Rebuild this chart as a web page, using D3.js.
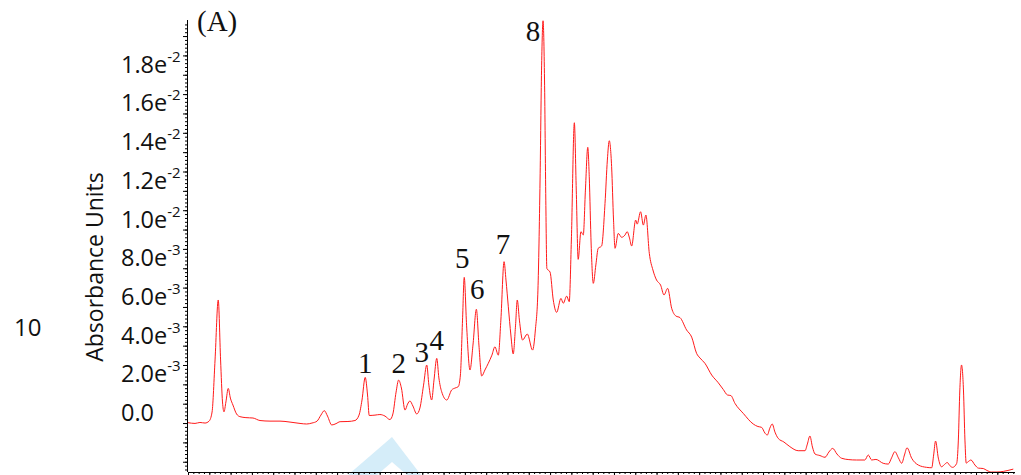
<!DOCTYPE html>
<html>
<head>
<meta charset="utf-8">
<script src="https://cdn.jsdelivr.net/npm/d3@7"></script>
<style>
  html, body { margin: 0; padding: 0; background: #fff; }
  svg { display: block; }
</style>
</head>
<body>
<svg id="chart" width="1021" height="475"></svg>
<script>
// Retention time (min) and absorbance (in units of 1e-3 AU)
const timeMin = [
  0.00, 0.33, 0.56, 0.80, 0.99, 1.13, 1.27, 1.42, 1.53, 1.62, 1.69, 1.78, 1.89, 1.99, 2.11, 2.28, 2.44, 2.72, 3.05, 3.38,
  3.85, 4.32, 4.79, 5.26, 5.57, 5.82, 6.06, 6.24, 6.40, 6.55, 6.75, 6.95, 7.14, 7.51, 7.84, 8.03, 8.17, 8.32, 8.43, 8.51,
  8.78, 9.01, 9.25, 9.48, 9.62, 9.77, 9.89, 10.02, 10.19, 10.31, 10.42, 10.56, 10.74, 10.89, 11.06, 11.21, 11.31, 11.44, 11.55, 11.68,
  11.78, 11.91, 12.15, 12.38, 12.54, 12.69, 12.79, 12.89, 12.97, 13.08, 13.24, 13.38, 13.54, 13.66, 13.79, 13.94, 14.10, 14.27, 14.41, 14.57,
  14.69, 14.84, 14.93, 15.04, 15.16, 15.27, 15.38, 15.46, 15.56, 15.71, 15.93, 16.18, 16.31, 16.43, 16.53, 16.60, 16.67, 16.74, 16.80, 16.85,
  17.00, 17.15, 17.31, 17.51, 17.62, 17.78, 17.90, 18.00, 18.14, 18.23, 18.32, 18.45, 18.56, 18.66, 18.77, 18.84, 18.93, 19.03, 19.15, 19.26,
  19.42, 19.58, 19.69, 19.78, 19.89, 19.98, 20.05, 20.20, 20.36, 20.52, 20.62, 20.73, 20.83, 21.02, 21.09, 21.25, 21.38, 21.50, 21.66, 21.83,
  22.00, 22.19, 22.35, 22.52, 22.71, 22.91, 23.10, 23.41, 23.65, 23.88, 24.04, 24.27, 24.59, 24.90, 25.13, 25.33, 25.49, 25.68, 26.07, 26.54,
  26.76, 26.93, 27.09, 27.20, 27.32, 27.43, 27.56, 27.71, 27.98, 28.26, 28.65, 28.97, 29.08, 29.20, 29.32, 29.44, 29.67, 29.91, 30.09, 30.27,
  30.47, 30.69, 31.03, 31.39, 31.78, 31.94, 32.10, 32.30, 32.64, 32.88, 33.03, 33.19, 33.36, 33.51, 33.64, 33.76, 33.98, 34.29, 34.68, 34.92,
  35.01, 35.10, 35.23, 35.38, 35.52, 35.65, 35.77, 35.90, 36.09, 36.17, 36.24, 36.32, 36.41, 36.48, 36.54, 36.64, 36.76, 36.95, 37.11, 37.34,
  37.51, 37.73, 37.98, 38.28, 38.50, 38.75
];
const absorbanceMilli = [
  0.02, -0.02, 0.03, 0.00, 0.10, 0.57, 3.26, 6.36, 3.26, 1.09, 0.58, 1.09, 1.79, 1.29, 0.93, 0.47, 0.33, 0.28, 0.26, 0.13,
  0.10, 0.10, 0.05, -0.02, -0.05, 0.00, 0.10, 0.41, 0.64, 0.36, -0.10, -0.03, 0.07, 0.08, 0.13, 0.41, 1.19, 2.36, 1.45, 0.39,
  0.41, 0.44, 0.36, 0.18, 0.47, 1.60, 2.22, 1.81, 0.67, 0.98, 1.14, 0.88, 0.47, 0.78, 1.96, 3.00, 1.96, 1.19, 2.22, 3.34,
  2.33, 1.62, 1.19, 1.71, 1.81, 1.88, 2.48, 5.32, 7.53, 5.06, 2.74, 4.03, 5.88, 4.03, 2.43, 2.74, 3.09, 3.51, 3.94, 3.51,
  5.32, 8.34, 7.39, 6.01, 4.55, 3.57, 5.06, 6.36, 5.32, 4.29, 4.60, 3.77, 4.81, 6.87, 12.56, 18.24, 20.79, 17.73, 11.52, 7.99,
  7.80, 6.36, 5.72, 6.44, 6.19, 6.56, 6.27, 9.46, 15.52, 12.04, 8.46, 9.89, 9.72, 12.04, 14.25, 12.73, 9.20, 7.22, 8.17, 9.03,
  9.15, 11.35, 13.59, 14.59, 13.25, 10.49, 9.03, 9.80, 9.60, 9.72, 9.89, 9.56, 9.15, 10.49, 10.28, 10.92, 10.23, 10.75, 8.77, 7.91,
  7.39, 7.13, 6.62, 6.96, 5.93, 5.53, 5.45, 4.81, 4.44, 3.60, 3.36, 3.09, 2.48, 2.08, 1.74, 1.45, 1.42, 1.02, 0.50, -0.05,
  -0.18, -0.22, -0.52, -0.62, -0.26, -0.05, -0.47, -0.79, -0.98, -1.22, -1.43, -1.43, -1.09, -0.67, -1.24, -1.60, -1.68, -1.77, -1.50, -1.31,
  -1.60, -1.82, -1.89, -1.91, -1.91, -1.65, -1.91, -1.88, -2.08, -2.12, -1.81, -1.48, -1.81, -2.08, -1.65, -1.28, -1.82, -2.17, -2.29, -2.31,
  -1.65, -0.93, -1.81, -2.26, -2.14, -2.04, -2.20, -2.29, -2.09, -0.88, 1.71, 3.00, 1.71, -0.88, -2.07, -1.99, -1.91, -2.17, -2.33, -2.35,
  -2.45, -2.53, -2.53, -2.50, -2.45, -2.38
];

// Numbered peaks: label, retention time, absorbance at apex (1e-3 AU)
const peakLabels = ["1", "2", "3", "4", "5", "6", "7", "8"];
const peakTimes  = [8.32, 9.89, 11.21, 11.68, 12.97, 13.54, 14.84, 16.67];
const peakValues = [2.36, 2.22, 3.00, 3.34, 7.53, 5.88, 8.34, 20.79];

// Y-axis tick values (1e-3 AU) and their labels
const yTickValues = [0, 2, 4, 6, 8, 10, 12, 14, 16, 18];
const yTickMantissa = ["0.0", "2.0e", "4.0e", "6.0e", "8.0e", "1.0e", "1.2e", "1.4e", "1.6e", "1.8e"];
const yTickExponent = ["", "-3", "-3", "-3", "-3", "-2", "-2", "-2", "-2", "-2"];

const panelTitle = "(A)";
const yAxisTitle = "Absorbance Units";
const sideNote = "10";

const svg = d3.select("#chart");
const plot = { left: 188, right: 1015, top: 20, bottom: 472 };

const x = d3.scaleLinear().domain([0, 38.83]).range([plot.left, plot.right]);
const y = d3.scaleLinear().domain([-2.53, 20.83]).range([plot.bottom, plot.top]);

const data = timeMin.map((t, i) => ({ t, a: absorbanceMilli[i] }));

// Light-blue chevron mark behind the axis
svg.append("path")
  .attr("d", "M392,437 L421,475 L407,475 L392,462 L377,475 L348,475 Z")
  .attr("fill", "#d5edf9");

// Chromatogram trace
const line = d3.line()
  .x(d => x(d.t))
  .y(d => y(d.a))
  .curve(d3.curveMonotoneX);

svg.append("path")
  .datum(data)
  .attr("d", line)
  .attr("fill", "none")
  .attr("stroke", "#ff1a1a")
  .attr("stroke-width", 1);

// Bottom axis: line plus major/minor ticks, no labels
const xAxisMinor = d3.axisBottom(x)
  .tickValues(d3.range(0, 38.8, 0.25))
  .tickSize(2).tickFormat("").tickSizeOuter(0);
const xAxisMajor = d3.axisBottom(x)
  .tickValues(d3.range(0, 39, 1))
  .tickSize(4).tickFormat("").tickSizeOuter(0);
[xAxisMinor, xAxisMajor].forEach(ax => {
  const g = svg.append("g").attr("transform", `translate(0,${plot.bottom})`).call(ax);
  g.select(".domain").attr("stroke", "#000").attr("d", `M${plot.left},0.5H${plot.right}`);
  g.selectAll(".tick line").attr("stroke", "#000");
});

// Left axis: line plus major/minor ticks
const yAxisMinor = d3.axisLeft(y)
  .tickValues(d3.range(-2.4, 20.8, 0.2))
  .tickSize(3).tickFormat("").tickSizeOuter(0);
const yAxisMajor = d3.axisLeft(y)
  .tickValues(d3.range(-2, 21, 1))
  .tickSize(5).tickFormat("").tickSizeOuter(0);
[yAxisMinor, yAxisMajor].forEach(ax => {
  const g = svg.append("g").attr("transform", `translate(${plot.left},0)`).call(ax);
  g.select(".domain").attr("stroke", "#000").attr("d", `M-0.5,${plot.top}V${plot.bottom}`);
  g.selectAll(".tick line").attr("stroke", "#000");
});

// Y tick labels with superscript exponents
const labelFont = "'Open Sans', 'DejaVu Sans', sans-serif";
const yLabels = svg.append("g")
  .attr("font-family", labelFont)
  .attr("fill", "#111");
yTickValues.forEach((v, i) => {
  const t = yLabels.append("text")
    .attr("x", 121)
    .attr("y", y(v) - 2)
    .attr("font-size", 23.5);
  t.append("tspan").text(yTickMantissa[i]);
  if (yTickExponent[i]) {
    t.append("tspan")
      .attr("font-size", 15)
      .attr("dy", -11)
      .text(yTickExponent[i]);
  }
});

// Y axis title
svg.append("text")
  .attr("transform", "translate(103,267) rotate(-90)")
  .attr("text-anchor", "middle")
  .attr("font-family", labelFont)
  .attr("font-size", 23)
  .attr("fill", "#111")
  .text(yAxisTitle);

// Side note
svg.append("text")
  .attr("x", 14)
  .attr("y", 336)
  .attr("font-family", labelFont)
  .attr("font-size", 24)
  .attr("fill", "#111")
  .text(sideNote);

// Panel title
svg.append("text")
  .attr("x", 197)
  .attr("y", 31)
  .attr("font-family", "'Liberation Serif', 'Times New Roman', serif")
  .attr("font-size", 29)
  .attr("fill", "#111")
  .text(panelTitle);

// Peak number annotations, placed relative to each apex
const peakOffsets = [[0, -4], [0, -7], [-5, -3], [0, -8], [-2, -9], [1, -10], [-1, -8], [-10, 20]];
svg.append("g")
  .attr("font-family", "'Liberation Serif', 'Times New Roman', serif")
  .attr("font-size", 29)
  .attr("fill", "#111")
  .attr("text-anchor", "middle")
  .selectAll("text")
  .data(peakLabels)
  .join("text")
  .attr("x", (d, i) => x(peakTimes[i]) + peakOffsets[i][0])
  .attr("y", (d, i) => y(peakValues[i]) + peakOffsets[i][1])
  .text(d => d);
</script>
</body>
</html>
